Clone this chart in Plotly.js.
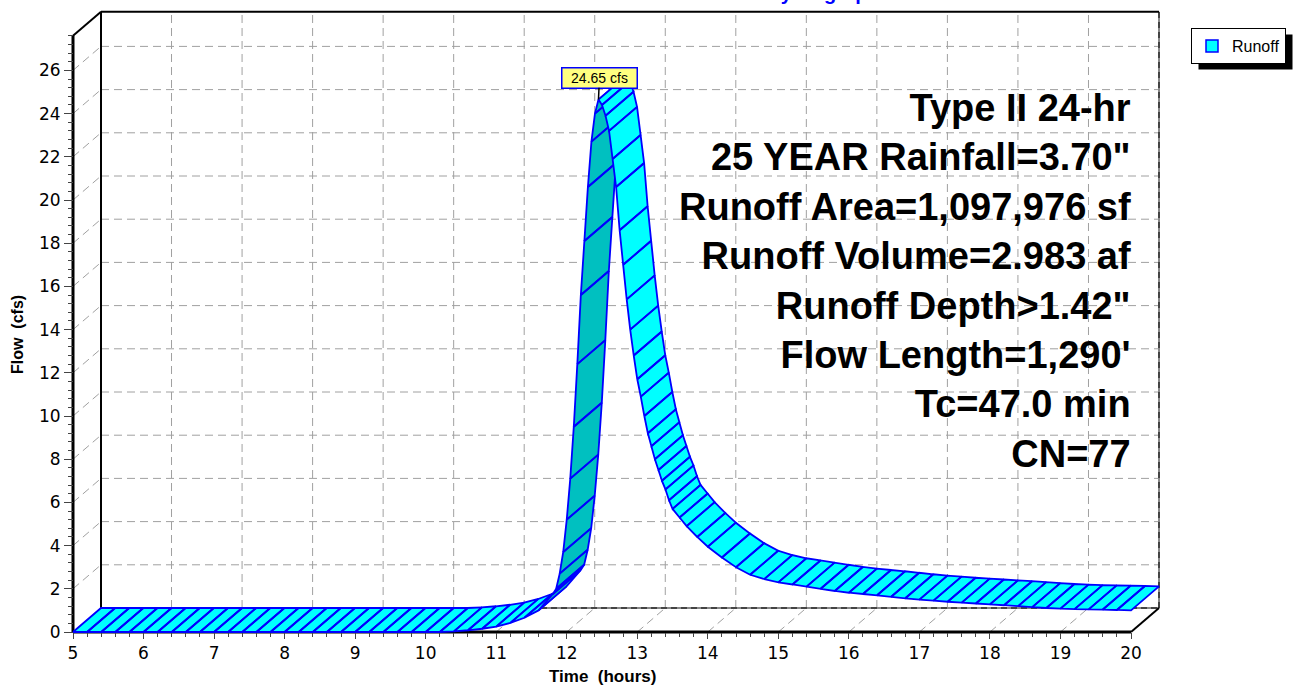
<!DOCTYPE html>
<html><head><meta charset="utf-8">
<script src="https://cdn.plot.ly/plotly-3.0.1.min.js"></script>
<style>html,body{margin:0;padding:0;background:#fff;}#chart{width:1294px;height:688px;}</style>
</head><body><div id="chart"></div>
<script>
// ---------------- DATA ----------------
const timeHours = [5.0,5.2,5.4,5.6,5.8,6.0,6.2,6.4,6.6,6.8,7.0,7.2,7.4,7.6,7.8,8.0,8.2,8.4,8.6,8.8,9.0,9.2,9.4,9.6,9.8,10.0,10.2,
  10.4,10.6,10.8,11.0,11.2,11.4,11.6,11.8,
  11.85,11.9,11.95,12.0,12.05,12.1,12.15,12.2,12.25,12.3,12.35,12.4,12.45,
  12.5,12.55,12.6,12.65,12.7,12.75,12.8,12.85,12.9,12.95,13.0,13.05,13.1,13.15,13.2,13.25,13.3,13.35,13.4,13.45,13.5,
  13.6,13.7,13.85,14.0,14.2,14.4,14.6,14.8,15.0,15.2,15.4,15.6,15.8,16.0,16.2,16.4,16.6,16.8,17.0,17.2,17.4,17.6,17.8,
  18.0,18.2,18.4,18.6,18.8,19.0,19.2,19.4,19.6,19.8,20.0];
const flowCfs = [0,0,0,0,0,0,0,0,0,0,0,0,0,0,0,0,0,0,0,0,0,0,0,0,0,0,0,
  0.03,0.08,0.15,0.25,0.42,0.66,1.0,1.75,
  2.0,2.7,3.7,5.2,7.1,9.5,12.4,15.6,18.1,20.6,22.7,24.0,24.65,
  24.4,23.9,23.2,21.9,20.6,18.6,17.0,15.4,14.0,12.8,11.7,10.9,10.0,9.2,8.6,8.0,7.5,7.0,6.6,6.1,5.7,
  5.3,4.9,4.4,3.95,3.45,3.0,2.65,2.45,2.3,2.2,2.1,2.0,1.9,1.82,1.76,1.7,1.63,1.56,1.5,1.45,1.4,1.36,1.32,
  1.28,1.24,1.2,1.15,1.11,1.08,1.06,1.05,1.04,1.02,1.0];
const xTickVals = [5,6,7,8,9,10,11,12,13,14,15,16,17,18,19,20];
const yTickVals = [0,2,4,6,8,10,12,14,16,18,20,22,24,26];
const seriesName = 'Runoff';
const peakText = '24.65 cfs';
const infoLines = ['Type II 24-hr','25 YEAR Rainfall=3.70"','Runoff Area=1,097,976 sf','Runoff Volume=2.983 af',
  'Runoff Depth>1.42"',"Flow Length=1,290'",'Tc=47.0 min','CN=77'];
const chartTitle = 'Hydrograph';
const xTitle = 'Time&nbsp; (hours)';
const yTitle = 'Flow&nbsp; (cfs)';

// ---------------- GEOMETRY (layout only) ----------------
const L=69, R=1163, T=8, B=636;
const X0PX=73, X1PX=1131, Y0PX=632, KY=21.6;
const KX=(X1PX-X0PX)/15;
const xmin=5-(X0PX-L)/KX, xmax=5+(R-X0PX)/KX;
const ymin=-(B-Y0PX)/KY, ymax=(Y0PX-T)/KY;
const DXPX=28, DYPX=24;
const DX=DXPX/KX, DY=DYPX/KY;
const YTOP=27.6, XSTART=5, XEND=20;
const px2x=p=>(p-L)/(R-L), px2y=p=>(B-p)/(B-T);
const FONT='Liberation Sans, Arial, sans-serif';
const TICKFONT='DejaVu Sans, Verdana, sans-serif';

// ---------------- RIBBON FACES ----------------
const runs=[]; let cur=null;
for(let i=0;i<timeHours.length-1;i++){
  const t0=timeHours[i],t1=timeHours[i+1],q0=flowCfs[i],q1=flowCfs[i+1];
  const dxp=(t1-t0)*KX, dyp=-(q1-q0)*KY;
  const under=(dxp*(-DYPX)-dyp*DXPX)>0;
  if(!cur||cur.under!==under){cur={under:under,x:[],y:[]};runs.push(cur);}
  cur.x.push(t0,t1,t1+DX,t0+DX,t0,null);
  cur.y.push(q0,q1,q1+DY,q0+DY,q0,null);
}
const traces=runs.map(r=>({type:'scatter',mode:'lines',x:r.x,y:r.y,fill:'toself',
  fillcolor:r.under?'#00C0C0':'#00FFFF',line:{color:'#0000FF',width:1.8},
  hoverinfo:'skip',showlegend:false,connectgaps:false}));
traces.push({type:'scatter',mode:'markers',x:[null],y:[null],name:seriesName,showlegend:true,
  marker:{symbol:'square',size:12,color:'#00FFFF',line:{color:'#0000FF',width:1.5}}});

// ---------------- FRAME & GRID ----------------
const shapes=[];
const gridLine={color:'#A0A0A0',width:1,dash:'8px,5px'};
yTickVals.filter(v=>v>0).forEach(v=>{
  shapes.push({type:'line',xref:'x',yref:'y',x0:XSTART+DX,x1:XEND+DX,y0:v+DY,y1:v+DY,line:gridLine,layer:'below'});
  shapes.push({type:'line',xref:'x',yref:'y',x0:XSTART,x1:XSTART+DX,y0:v,y1:v+DY,line:gridLine,layer:'below'});
});
xTickVals.filter(v=>v>XSTART&&v<XEND).forEach(v=>{
  shapes.push({type:'line',xref:'x',yref:'y',x0:v+DX,x1:v+DX,y0:DY,y1:YTOP+DY,line:gridLine,layer:'below'});
  shapes.push({type:'line',xref:'x',yref:'y',x0:v,x1:v+DX,y0:0,y1:DY,line:gridLine,layer:'below'});
});
const blk=w=>({color:'#000',width:w});
shapes.push({type:'line',xref:'x',yref:'y',x0:XSTART+DX,x1:XEND+DX,y0:DY,y1:DY,line:{color:'#888',width:2},layer:'below'});
shapes.push({type:'line',xref:'x',yref:'y',x0:XSTART+DX,x1:XEND+DX,y0:DY,y1:DY,line:{color:'#000',width:1,dash:'6px,4px'},layer:'below'});
shapes.push({type:'line',xref:'x',yref:'y',x0:XEND+DX,x1:XEND+DX,y0:DY,y1:YTOP+DY,line:{color:'#888',width:2},layer:'below'});
shapes.push({type:'line',xref:'x',yref:'y',x0:XEND+DX,x1:XEND+DX,y0:DY,y1:YTOP+DY,line:{color:'#000',width:1,dash:'6px,4px'},layer:'below'});
shapes.push({type:'line',xref:'x',yref:'y',x0:XSTART+DX,x1:XSTART+DX,y0:DY,y1:YTOP+DY,line:blk(2),layer:'below'});
shapes.push({type:'line',xref:'x',yref:'y',x0:XSTART+DX,x1:XEND+DX,y0:YTOP+DY,y1:YTOP+DY,line:blk(2),layer:'below'});
shapes.push({type:'line',xref:'x',yref:'y',x0:XSTART,x1:XSTART,y0:0,y1:YTOP,line:blk(3),layer:'below'});
shapes.push({type:'line',xref:'x',yref:'y',x0:XSTART,x1:XEND,y0:0,y1:0,line:blk(3),layer:'below'});
shapes.push({type:'line',xref:'x',yref:'y',x0:XSTART,x1:XSTART+DX,y0:YTOP,y1:YTOP+DY,line:blk(2),layer:'below'});
shapes.push({type:'line',xref:'x',yref:'y',x0:XEND,x1:XEND+DX,y0:0,y1:DY,line:blk(2),layer:'below'});

// ---------------- TICKS ----------------
const xMinor=[]; for(let i=25;i<=100;i++){ if(i%5) xMinor.push(i/5); }
const yMinor=[]; for(let i=0;i<=69;i++){ if(i%5) yMinor.push(i*0.4); }

let pk=0; flowCfs.forEach((v,i)=>{ if(v>flowCfs[pk]) pk=i; });

const layout={
  width:1294,height:688,
  margin:{l:L,r:1294-R,t:T,b:688-B,pad:0},
  paper_bgcolor:'#fff',plot_bgcolor:'rgba(0,0,0,0)',
  title:{text:'<b>'+chartTitle+'</b>',font:{family:FONT,size:20,color:'#0000FF'},
    x:823/1294,xanchor:'center',xref:'container',y:1,yref:'container',yanchor:'bottom'},
  xaxis:{range:[xmin,xmax],anchor:'free',position:(0-ymin)/(ymax-ymin),tickmode:'array',tickvals:xTickVals,
    ticks:'outside',ticklen:6,tickwidth:1,tickcolor:'#444',showline:false,showgrid:false,zeroline:false,
    tickfont:{family:TICKFONT,size:17,color:'#000'},fixedrange:true,automargin:false,
    minor:{tickmode:'array',tickvals:xMinor,ticks:'outside',ticklen:4,tickwidth:1,tickcolor:'#444',showgrid:false}},
  yaxis:{range:[ymin,ymax],anchor:'free',position:(XSTART-xmin)/(xmax-xmin),tickmode:'array',tickvals:yTickVals,
    ticks:'outside',ticklen:9,tickwidth:1,tickcolor:'#444',showline:false,showgrid:false,zeroline:false,
    tickfont:{family:TICKFONT,size:17,color:'#000'},fixedrange:true,automargin:false,
    minor:{tickmode:'array',tickvals:yMinor,ticks:'outside',ticklen:5,tickwidth:1,tickcolor:'#444',showgrid:false}},
  showlegend:true,
  legend:{x:px2x(1191),xanchor:'left',y:px2y(46),yanchor:'middle',bgcolor:'#fff',bordercolor:'#000',borderwidth:1,
    font:{family:FONT,size:16,color:'#000'},itemwidth:30},
  shapes:shapes,
  annotations:[
    {xref:'paper',yref:'paper',x:px2x(1133),y:px2y(281),xanchor:'right',yanchor:'middle',align:'right',showarrow:false,
     text:'<b>'+infoLines.join('<br>')+'</b>',font:{family:FONT,size:38,color:'#000'}},
    {xref:'x',yref:'y',x:timeHours[pk],y:flowCfs[pk],text:peakText,showarrow:true,arrowhead:0,arrowwidth:1.5,arrowcolor:'#000',
     ax:1,ay:-22,width:72,height:17,bgcolor:'#FFFF80',bordercolor:'#0000FF',borderwidth:1.5,borderpad:1,
     font:{family:FONT,size:14,color:'#000'}},
    {xref:'paper',yref:'paper',x:px2x(602),y:px2y(676),xanchor:'center',yanchor:'middle',showarrow:false,
     text:'<b>'+xTitle+'</b>',font:{family:FONT,size:17,color:'#000'}},
    {xref:'paper',yref:'paper',x:px2x(17),y:px2y(335),xanchor:'center',yanchor:'middle',showarrow:false,textangle:-90,
     text:'<b>'+yTitle+'</b>',font:{family:FONT,size:16,color:'#000'}}
  ]
};
const gd=document.getElementById('chart');
Plotly.newPlot(gd,traces,layout,{displayModeBar:false,staticPlot:true}).then(()=>{
  const bg=gd.querySelector('.legend .bg');
  if(!bg) return;
  const r=bg.getBoundingClientRect(), c=gd.getBoundingClientRect();
  const x0=r.left-c.left, y0=r.top-c.top, x1=r.right-c.left, y1=r.bottom-c.top;
  const shadow={type:'rect',xref:'paper',yref:'paper',x0:px2x(x0+7),x1:px2x(x1+7),y0:px2y(y1+6),y1:px2y(y0+6),
    fillcolor:'#000',line:{width:0},layer:'above'};
  return Plotly.relayout(gd,{shapes:shapes.concat([shadow])});
});
</script></body></html>
